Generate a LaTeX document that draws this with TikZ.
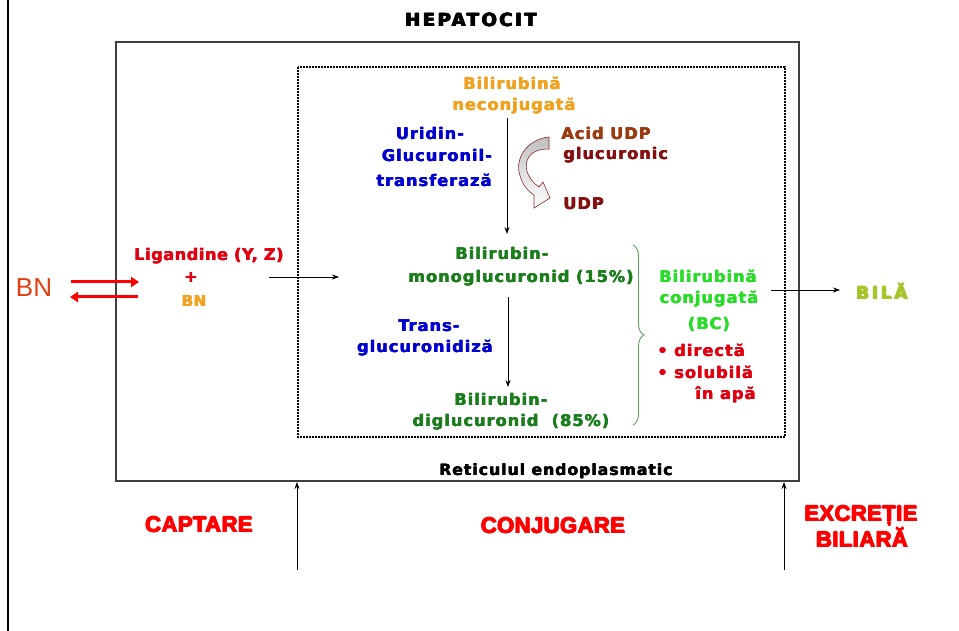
\documentclass[tikz,border=0pt]{standalone}
\usepackage{fontspec}
\setmainfont{DejaVu Sans}
\newfontfamily\bt{DejaVu Sans}[LetterSpace=7]
\newfontfamily\btl{DejaVu Sans}[LetterSpace=4]
\newfontfamily\hep{DejaVu Sans Bold}[LetterSpace=14]
\newfontfamily\bilaf{DejaVu Sans Bold}[LetterSpace=16]
\newfontfamily\retf{DejaVu Sans Bold}[LetterSpace=7]
\newfontfamily\imp{Liberation Sans Bold}[LetterSpace=2]
\newfontfamily\lib{Liberation Sans}
\newcommand\hvy[1]{\rlap{#1}\rlap{\hspace{0.5pt}#1}\rlap{\hspace{1pt}#1}\rlap{\hspace{0.5pt}\raisebox{0.4pt}{#1}}\hspace{1.2pt}#1}
\newcommand\lhvy[1]{\rlap{#1}\rlap{\hspace{0.4pt}#1}\hspace{0.6pt}#1}
\usetikzlibrary{arrows.meta,decorations.pathreplacing}
\definecolor{cOrange}{HTML}{F0A11E}
\definecolor{cBlue}{HTML}{0000D0}
\definecolor{cBrown}{HTML}{9B3B12}
\definecolor{cMaroon}{HTML}{860F0F}
\definecolor{cDkGreen}{HTML}{1B7D1B}
\definecolor{cGreen}{HTML}{28DC28}
\definecolor{cRed}{HTML}{E00010}
\definecolor{cBila}{HTML}{A5C52A}
\definecolor{cBrace}{HTML}{5E9E5E}
\definecolor{cBN}{HTML}{E04010}
\definecolor{cCurve}{HTML}{8B2A2A}
\tikzset{
  txt/.style={inner sep=0pt, anchor=base},
  boxtxt/.style={txt, font=\bt\bfseries\fontsize{16}{18}\selectfont},
  stagetxt/.style={txt, text=red, font=\imp\fontsize{22}{24}\selectfont},
  arr/.style={-{Stealth[length=7pt,width=5pt]}, line width=0.8pt},
  redarr/.style={draw=red, line width=3pt, -{Triangle[length=8pt,width=10pt]}},
}
\begin{document}
\begin{tikzpicture}[x=1pt,y=-1pt]
\useasboundingbox (0,0) rectangle (959,631);
\fill[white] (0,0) rectangle (959,631);

% frame line on the left
\draw[line width=2.5pt] (8,0) -- (8,631);

% hepatocyte and endoplasmic reticulum boxes
\draw[line width=1.2pt, black!75] (116,42) rectangle (799,481);
\draw[line width=1.8pt, dash pattern=on 1.6pt off 1.4pt] (298,67) rectangle (785,437);

% titles
\node[txt, font=\hep\fontsize{18}{20}\selectfont] (hep) at (471,27) {\hvy{HEPATOCIT}};
\node[txt, font=\retf\fontsize{15.5}{18}\selectfont] (ret) at (556,475) {\lhvy{Reticulul endoplasmatic}};

% unconjugated bilirubin
\node[boxtxt, text=cOrange] (bn1) at (512,90) {\lhvy{Bilirubină}};
\node[boxtxt, text=cOrange] (bn2) at (514,111) {\lhvy{neconjugată}};

% enzyme
\node[boxtxt, text=cBlue] (ug1) at (430,140) {\lhvy{Uridin-}};
\node[boxtxt, text=cBlue] (ug2) at (437,162) {\lhvy{Glucuronil-}};
\node[boxtxt, text=cBlue] (ug3) at (434,187) {\lhvy{transferază}};

% UDP glucuronic acid
\node[boxtxt, text=cBrown, anchor=base west] (ac1) at (561,140) {\lhvy{Acid UDP}};
\node[boxtxt, text=cMaroon, anchor=base west] (ac2) at (563,160) {\lhvy{glucuronic}};
\node[boxtxt, text=cMaroon, anchor=base west] (udp) at (563,210) {\lhvy{UDP}};

% curved arrow
\path[draw=cCurve, line width=0.6pt, top color=gray!50, middle color=white, bottom color=white]
  (549,137) .. controls (528,139) and (516,157) .. (519,172)
  .. controls (522,185) and (528,191) .. (534,195)
  -- (534,208) -- (550,198) -- (543,182) -- (539,187)
  .. controls (530,181) and (524,170) .. (527,161)
  .. controls (530,152) and (538,149) .. (549,149) -- cycle;

% monoglucuronide
\node[boxtxt, text=cDkGreen] (m1) at (502,260) {\lhvy{Bilirubin-}};
\node[boxtxt, text=cDkGreen] (m2) at (521,283) {\lhvy{monoglucuronid (15\%)}};

% transglucuronidase
\node[boxtxt, text=cBlue] (tg1) at (429,331) {\lhvy{Trans-}};
\node[boxtxt, text=cBlue] (tg2) at (425,352) {\lhvy{glucuronidiză}};

% diglucuronide
\node[boxtxt, text=cDkGreen] (d1) at (501,405) {\lhvy{Bilirubin-}};
\node[boxtxt, text=cDkGreen] (d2) at (511,426) {\lhvy{diglucuronid\ \ (85\%)}};

% vertical arrows in the reticulum
\coordinate (a1s) at (507,118);
\coordinate (a1e) at (507,234);
\draw[arr] (a1s) -- (a1e);
\coordinate (a2s) at (508,297);
\coordinate (a2e) at (508,387);
\draw[arr] (a2s) -- (a2e);

% brace
\coordinate (brt) at (633,245);
\coordinate (brb) at (633,425);
\draw[cBrace, line width=0.9pt, decorate, decoration={brace, amplitude=11pt}] (brt) -- (brb);

% conjugated bilirubin
\node[boxtxt, text=cGreen] (bc1) at (708,283) {\lhvy{Bilirubină}};
\node[boxtxt, text=cGreen] (bc2) at (709,304) {\lhvy{conjugată}};
\node[boxtxt, text=cGreen] (bc3) at (709,330) {\lhvy{(BC)}};
\node[boxtxt, text=cRed, anchor=base west] (p1) at (657,356) {\lhvy{\textbullet\ directă}};
\node[boxtxt, text=cRed, anchor=base west] (p2) at (657,378) {\lhvy{\textbullet\ solubilă}};
\node[boxtxt, text=cRed, anchor=base east] (p3) at (756,399) {\lhvy{în apă}};

% bile
\node[txt, text=cBila, font=\bilaf\fontsize{17}{20}\selectfont] (bila) at (882,299) {\hvy{BILĂ}};
\coordinate (b1s) at (771,290);
\coordinate (b1e) at (840,290);
\draw[arr] (b1s) -- (b1e);

% ligandins
\node[txt, text=cRed, font=\btl\bfseries\fontsize{16}{18}\selectfont] (lig) at (209,261) {\lhvy{Ligandine (Y, Z)}};
\node[txt, text=cRed, font=\btl\bfseries\fontsize{16}{18}\selectfont] (plus) at (191,283) {\lhvy{+}};
\node[txt, text=cOrange, font=\btl\bfseries\fontsize{15}{18}\selectfont] (bnl) at (194,306) {\lhvy{BN}};
\coordinate (l1s) at (269,277);
\coordinate (l1e) at (339,277);
\draw[arr] (l1s) -- (l1e);

% BN outside
\node[txt, text=cBN, font=\lib\fontsize{26}{28}\selectfont] (bn) at (34,297) {BN};
\coordinate (r1s) at (71,282);
\coordinate (r1e) at (139,282);
\coordinate (r2s) at (138,297);
\coordinate (r2e) at (70,297);
\draw[redarr] (r1s) -- (r1e);
\draw[redarr] (r2s) -- (r2e);

% stage arrows
\coordinate (v1s) at (297,570);
\coordinate (v1e) at (297,482);
\coordinate (v2s) at (784,570);
\coordinate (v2e) at (784,482);
\draw[arr] (v1s) -- (v1e);
\draw[arr] (v2s) -- (v2e);

% stage labels
\node[stagetxt] (cap) at (199,532) {\hvy{CAPTARE}};
\node[stagetxt] (con) at (553,533) {\hvy{CONJUGARE}};
\node[stagetxt] (exc) at (861,521) {\hvy{EXCREȚIE}};
\node[stagetxt] (bil) at (862,547) {\hvy{BILIARĂ}};
\end{tikzpicture}
\end{document}
